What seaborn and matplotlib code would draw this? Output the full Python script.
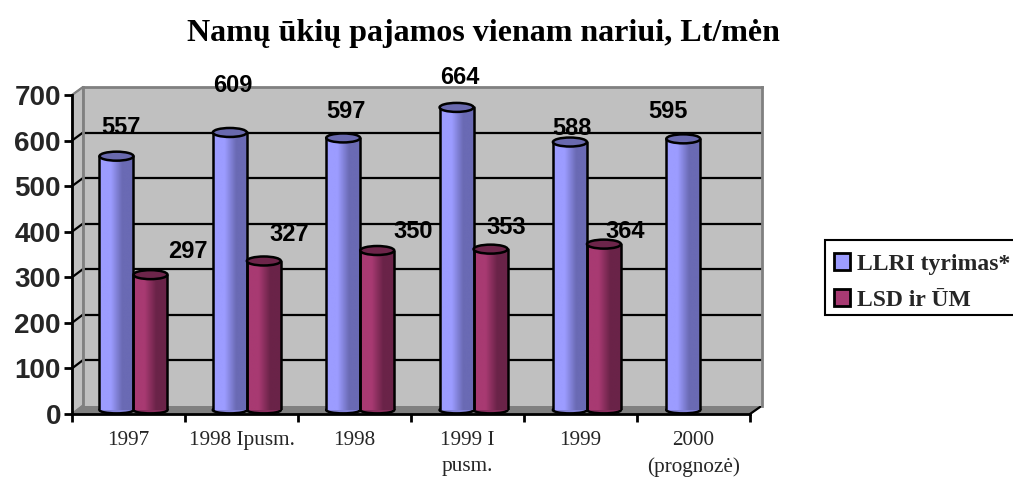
import numpy as np
import pandas as pd
import matplotlib
matplotlib.use('Agg')
import matplotlib.pyplot as plt
import seaborn as sns
from matplotlib.lines import Line2D
from matplotlib.patches import Ellipse, Polygon, Rectangle

W, H = 1013, 478

categories = ['1997', '1998 Ipusm.', '1998', '1999 I\npusm.', '1999', '2000\n(prognozė)']
llri = [557, 609, 597, 664, 588, 595]
lsd = [297, 327, 350, 353, 364, np.nan]
series_names = ['LLRI tyrimas*', 'LSD ir ŪM']
y_ticks = [0, 100, 200, 300, 400, 500, 600, 700]
title = 'Namų ūkių pajamos vienam nariui, Lt/mėn'

# hand placed value labels in the original, offsets from bar top in pixels
llri_offsets = [(4, 29), (3, 47), (3, 26), (3, 30), (2, 14), (-15, 27)]
lsd_offsets = [(37, 23), (25, 26), (36, 19), (16, 22), (21, 13), (0, 0)]

BLUE = ('#9c9cff', '#6a6ab4')
MAROON = ('#a83a72', '#6a2348')


def box(left, right, top, bottom):
    # pixel box (origin top left) -> figure fractions
    return [left / W, 1 - bottom / H, (right - left) / W, (bottom - top) / H]


def fig_xy(x, y):
    return x / W, 1 - y / H


def to_px(ax, x, y):
    px = ax.transData.transform((x, y))
    return px[0] / W, px[1] / H


sns.set_style('white')
plt.rcParams['font.family'] = ['Liberation Sans', 'DejaVu Sans']

fig = plt.figure(figsize=(W / 100, H / 100), dpi=100)

ax_wall = fig.add_axes(box(83, 762, 87, 405.6), zorder=0)
ax_front = fig.add_axes(box(72, 750, 95, 414), zorder=1, facecolor='none')
ax = fig.add_axes(box(76.8, 757, 91, 410), zorder=2, facecolor='none')

for a in (ax_wall, ax_front, ax):
    a.set_xlim(-0.5, 5.5)
    a.set_ylim(0, 700)

# back wall
ax_wall.set_facecolor('#c0c0c0')
ax_wall.hlines(y_ticks[1:-1], -0.5, 5.5, color='black', lw=1.6)
ax_wall.set_xticks([])
ax_wall.set_yticks([])
for name, sp in ax_wall.spines.items():
    sp.set_color('#808080')
    sp.set_linewidth(2)
    sp.set_visible(name != 'bottom')

# side wall and floor
fig.add_artist(Polygon([fig_xy(72, 95), fig_xy(83, 87), fig_xy(83, 405.6), fig_xy(72, 414)],
                       closed=True, fc='#c0c0c0', ec='#808080', lw=1,
                       transform=fig.transFigure, zorder=-1))
fig.add_artist(Polygon([fig_xy(72, 414), fig_xy(83, 405.6), fig_xy(762, 405.6), fig_xy(750, 414)],
                       closed=True, fc='#808080', ec='#808080', lw=1,
                       transform=fig.transFigure, zorder=-1))

# diagonal ticks between the front axis and the wall
for v in y_ticks:
    x0, y0 = to_px(ax_front, -0.5, v)
    x1, y1 = to_px(ax_wall, -0.5, v)
    col = 'black' if 0 < v < 700 else '#808080'
    fig.add_artist(Line2D([x0, x1], [y0, y1], color=col, lw=1.6, transform=fig.transFigure, zorder=-0.5))
x0, y0 = to_px(ax_front, 5.5, 0)
x1, y1 = to_px(ax_wall, 5.5, 0)
fig.add_artist(Line2D([x0, x1], [y0, y1], color='black', lw=1.6, transform=fig.transFigure, zorder=-0.5))

# front axis with the ticks and labels
for name, sp in ax_front.spines.items():
    sp.set_visible(name in ('left', 'bottom'))
    sp.set_color('black')
    sp.set_linewidth(2)
ax_front.set_yticks(y_ticks)
ax_front.set_yticklabels([str(v) for v in y_ticks], fontsize=20, fontweight='bold')
ax_front.set_xticks(np.arange(-0.5, 6, 1))
ax_front.set_xticklabels([])
ax_front.set_xticks(np.arange(6), minor=True)
ax_front.set_xticklabels(categories, minor=True, family='Liberation Serif', fontsize=15.3,
                         linespacing=1.5, va='top')
ax_front.tick_params(axis='both', which='major', length=6, width=2, color='black', direction='out',
                     left=True, bottom=True, pad=2)
ax_front.tick_params(axis='x', which='minor', length=0, pad=12)

# bars
df = pd.DataFrame({
    'kategorija': categories * 2,
    'pajamos': llri + lsd,
    'serija': [series_names[0]] * 6 + [series_names[1]] * 6,
})
sns.barplot(data=df, x='kategorija', y='pajamos', hue='serija', hue_order=series_names,
            palette=[BLUE[0], MAROON[0]], order=categories, width=0.6, gap=0,
            edgecolor='none', ax=ax, legend=False)
ax.set_axis_off()

cap_h = 9 * 700 / 319  # cap height in data units


def shade_bars(container, colors, offsets):
    ramp = matplotlib.colors.LinearSegmentedColormap.from_list('ramp', [colors[0], colors[0], colors[1], colors[1]])
    grad = np.linspace(0, 1, 64).reshape(1, -1)
    mid = ramp(0.5)
    top_col = tuple(c * 0.8 for c in mid[:3])
    for rect, off in zip(container.patches, offsets):
        h = rect.get_height()
        if np.isnan(h) or h == 0:
            continue
        x, w = rect.get_x(), rect.get_width()
        # rounded foot of the cylinder, then the shaded body, then the cap
        ax.add_patch(Ellipse((x + w / 2, 0), w, cap_h * 0.75, fc=mid, ec='black', lw=1.8, zorder=3, clip_on=False))
        ax.imshow(grad, extent=(x, x + w, 0, h), aspect='auto', cmap=ramp, zorder=4, interpolation='bilinear')
        ax.plot([x, x], [0, h], color='black', lw=1.8, zorder=5)
        ax.plot([x + w, x + w], [0, h], color='black', lw=1.8, zorder=5)
        ax.add_patch(Ellipse((x + w / 2, h), w, cap_h, fc=top_col, ec='black', lw=1.8, zorder=6, clip_on=False))
        ax.annotate(f'{h:.0f}', (x + w / 2, h), xytext=off, textcoords='offset pixels', ha='center', va='center',
                    fontsize=17, fontweight='bold', color='black', zorder=10, annotation_clip=False)


shade_bars(ax.containers[0], BLUE, llri_offsets)
shade_bars(ax.containers[1], MAROON, lsd_offsets)
ax.set_xlim(-0.5, 5.5)
ax.set_ylim(0, 700)

fig.text(483 / W, 1 - 33 / H, title, ha='center', va='center', family='Liberation Serif',
         fontsize=23, fontweight='bold', color='black')

# legend runs off the right edge in the original too, frame drawn apart so the rows can sit where they do
fig.add_artist(Rectangle(fig_xy(825, 315), 200 / W, 75 / H, fc='white', ec='black', lw=1.5,
                         transform=fig.transFigure, zorder=1))
handles = [plt.Rectangle((0, 0), 1, 1, fc=BLUE[0], ec='black', lw=2),
           plt.Rectangle((0, 0), 1, 1, fc=MAROON[0], ec='black', lw=2)]
leg = fig.legend(handles, series_names, loc='upper left', bbox_to_anchor=(824 / W, 1 - 243 / H),
                 prop={'family': 'Liberation Serif', 'weight': 'bold', 'size': 17},
                 handlelength=0.68, handleheight=0.72, handletextpad=0.28, labelspacing=0.63,
                 borderpad=0.42, borderaxespad=0, frameon=False)
leg.set_zorder(2)

fig.savefig('out.png', dpi=100)
